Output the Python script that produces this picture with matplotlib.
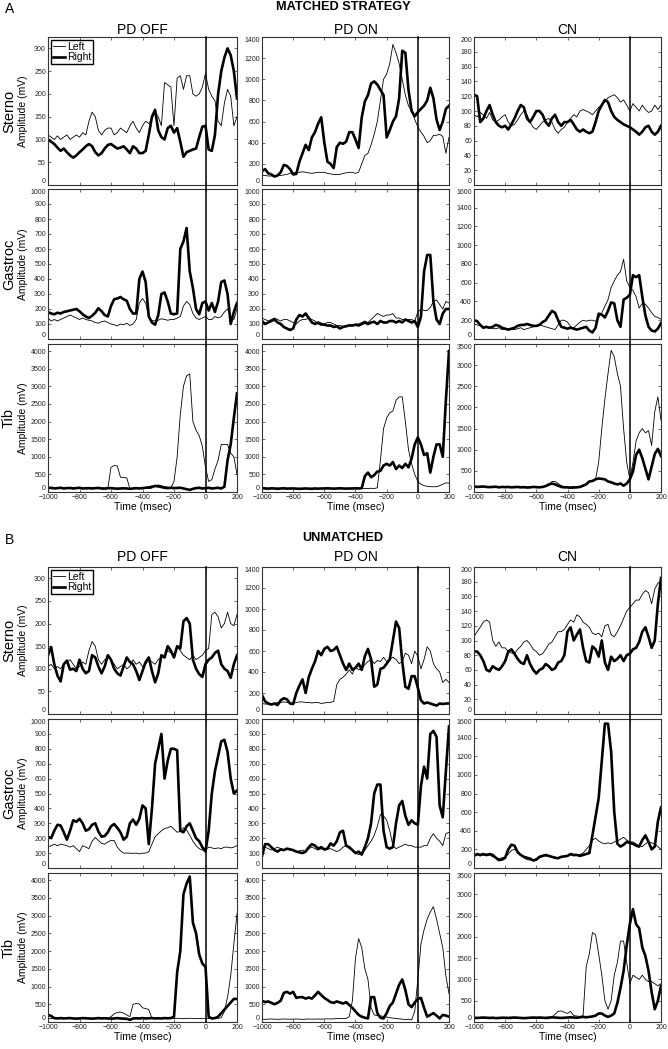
import numpy as np
import matplotlib
matplotlib.use('Agg')
import matplotlib.pyplot as plt
from matplotlib.lines import Line2D
from matplotlib import transforms

plt.rcParams['font.family'] = ['Liberation Sans', 'DejaVu Sans']

# time base (msec), one value every 20 msec
t = np.arange(-1000, 201, 20)

# ---------------- A: MATCHED STRATEGY ----------------
a_off_sterno_left = [110, 105, 100, 108, 100, 105, 110, 100, 105, 110,
                     105, 115, 110, 140, 160, 150, 120, 110, 120, 125,
                     125, 110, 115, 125, 120, 115, 130, 140, 125, 115,
                     130, 140, 135, 145, 160, 150, 130, 225, 220, 215,
                     130, 235, 240, 210, 240, 240, 200, 195, 200, 215,
                     245, 210, 195, 185, 140, 130, 180, 210, 195, 130, 150]
a_off_sterno_right = [100, 95, 90, 82, 75, 80, 72, 65, 60, 65,
                      72, 78, 85, 90, 85, 72, 65, 70, 80, 88,
                      90, 85, 80, 82, 85, 78, 70, 85, 80, 70,
                      70, 75, 110, 150, 165, 120, 105, 100, 125, 130,
                      115, 125, 95, 62, 72, 75, 78, 80, 105, 128,
                      130, 78, 75, 110, 200, 250, 280, 300, 285, 250, 190]
a_on_sterno_left = [90, 90, 85, 85, 90, 90, 90, 95, 100, 110,
                    115, 120, 120, 125, 120, 115, 110, 115, 120, 120,
                    120, 110, 105, 100, 100, 100, 110, 115, 120, 120,
                    110, 120, 200, 280, 300, 380, 480, 600, 800, 1000,
                    1050, 1150, 1330, 1250, 1150, 1000, 850, 750, 700, 620,
                    550, 500, 460, 400, 420, 470, 470, 480, 460, 300, 450]
a_on_sterno_right = [130, 150, 110, 100, 80, 90, 120, 190, 180, 150,
                     100, 105, 220, 300, 380, 330, 450, 500, 580, 640,
                     400, 220, 200, 160, 360, 400, 390, 410, 500, 500,
                     430, 350, 640, 790, 850, 960, 980, 950, 900, 850,
                     450, 520, 600, 650, 820, 1270, 1250, 900, 700, 650,
                     690, 720, 750, 800, 920, 820, 620, 520, 600, 720, 750]
a_cn_sterno_left = [95, 92, 98, 95, 90, 98, 88, 85, 88, 92,
                    95, 85, 80, 82, 88, 95, 100, 95, 85, 78,
                    75, 80, 85, 88, 90, 85, 75, 70, 75, 78,
                    85, 90, 95, 92, 100, 102, 100, 98, 95, 100,
                    105, 108, 112, 118, 120, 122, 118, 112, 115, 108,
                    100, 110, 105, 100, 108, 102, 98, 100, 108, 102, 108]
a_cn_sterno_right = [122, 120, 85, 90, 100, 108, 95, 85, 80, 78,
                     80, 75, 82, 90, 100, 108, 105, 90, 85, 92,
                     100, 100, 95, 85, 80, 90, 95, 85, 80, 85,
                     85, 88, 82, 75, 72, 75, 72, 70, 72, 85,
                     100, 108, 115, 112, 100, 92, 88, 85, 82, 80,
                     78, 75, 72, 68, 72, 78, 80, 72, 68, 72, 80]

a_off_gastroc_left = [140, 120, 130, 120, 130, 140, 150, 160, 150, 140,
                      130, 140, 130, 125, 120, 110, 105, 115, 120, 110,
                      100, 95, 88, 100, 95, 105, 90, 100, 130, 240,
                      270, 240, 140, 125, 120, 125, 135, 130, 125, 130,
                      130, 140, 150, 220, 250, 230, 170, 140, 130, 140,
                      150, 130, 130, 150, 140, 150, 180, 200, 150, 130, 200]
a_off_gastroc_right = [180, 170, 165, 175, 170, 180, 185, 190, 195, 200,
                       185, 165, 150, 140, 155, 175, 205, 185, 160, 150,
                       220, 265, 270, 280, 265, 255, 200, 170, 170, 400,
                       450, 380, 150, 110, 95, 160, 300, 310, 250, 170,
                       165, 170, 600, 650, 740, 450, 340, 200, 165, 240,
                       250, 190, 240, 180, 250, 380, 390, 300, 100, 180, 240]
a_on_gastroc_left = [140, 130, 120, 130, 140, 130, 120, 130, 130, 120,
                     110, 100, 120, 130, 130, 140, 130, 120, 100, 90,
                     100, 110, 110, 100, 90, 90, 85, 90, 95, 90,
                     100, 100, 110, 120, 110, 130, 150, 170, 160, 150,
                     160, 160, 170, 140, 140, 130, 130, 130, 130, 120,
                     180, 200, 190, 190, 210, 250, 260, 230, 200, 250, 240]
a_on_gastroc_right = [120, 100, 110, 120, 130, 110, 100, 80, 70, 60,
                      70, 130, 160, 150, 170, 140, 110, 100, 110, 100,
                      95, 90, 90, 80, 85, 70, 80, 85, 90, 90,
                      95, 90, 100, 110, 100, 110, 115, 100, 120, 110,
                      110, 120, 120, 110, 120, 110, 130, 120, 110, 120,
                      80, 150, 450, 560, 560, 250, 130, 100, 170, 200, 200]
a_cn_gastroc_left = [160, 150, 140, 130, 120, 120, 110, 110, 120, 100,
                     100, 110, 100, 100, 110, 120, 100, 110, 120, 130,
                     140, 150, 140, 130, 120, 110, 100, 150, 200, 200,
                     180, 130, 120, 150, 180, 200, 190, 200, 200, 190,
                     230, 280, 350, 420, 550, 620, 680, 720, 850, 620,
                     550, 520, 450, 330, 380, 370, 330, 280, 240, 230, 210]
a_cn_gastroc_right = [200, 190, 150, 120, 130, 120, 130, 150, 140, 120,
                      110, 100, 110, 120, 140, 150, 150, 160, 150, 140,
                      140, 150, 180, 200, 250, 300, 280, 200, 130, 120,
                      110, 120, 110, 100, 110, 120, 130, 90, 70, 120,
                      270, 260, 230, 300, 390, 380, 200, 130, 420, 440,
                      470, 680, 660, 680, 450, 250, 130, 90, 80, 110, 170]

a_off_tib_left = [120, 125, 115, 120, 110, 120, 125, 115, 110, 120,
                  115, 110, 120, 125, 115, 110, 120, 115, 110, 110,
                  700, 750, 740, 420, 410, 400, 100, 100, 95, 100,
                  105, 110, 100, 110, 180, 200, 180, 150, 140, 120,
                  300, 1000, 2200, 3000, 3300, 3350, 2000, 1750, 1600, 1300,
                  700, 300, 350, 650, 900, 1350, 1350, 1350, 1100, 1000, 500]
a_off_tib_right = [110, 120, 100, 110, 120, 100, 110, 115, 100, 110,
                   120, 100, 105, 110, 100, 110, 115, 100, 95, 110,
                   110, 100, 95, 100, 105, 100, 90, 100, 110, 100,
                   110, 120, 130, 150, 170, 160, 140, 120, 110, 120,
                   110, 115, 120, 100, 80, 60, 90, 110, 120, 100,
                   110, 120, 100, 110, 120, 100, 150, 900, 1350, 2100, 2800]
a_on_tib_left = [100, 110, 105, 95, 100, 110, 100, 95, 105, 100,
                 95, 100, 105, 100, 95, 100, 105, 100, 95, 100,
                 100, 95, 100, 105, 100, 95, 100, 105, 100, 100,
                 105, 100, 95, 100, 100, 105, 100, 120, 900, 1800,
                 2100, 2250, 2300, 2600, 2700, 2700, 2000, 1200, 800, 500,
                 300, 220, 180, 160, 150, 150, 150, 180, 220, 260, 250]
a_on_tib_right = [110, 100, 95, 105, 100, 90, 100, 105, 95, 100,
                  100, 95, 90, 95, 100, 95, 90, 100, 95, 100,
                  100, 105, 100, 95, 100, 105, 100, 95, 100, 100,
                  105, 100, 110, 450, 550, 420, 480, 580, 600, 750,
                  800, 750, 850, 650, 750, 680, 800, 700, 950, 1350,
                  1550, 1350, 1050, 1100, 550, 1000, 1350, 1350, 1000, 2600, 4000]
a_cn_tib_left = [120, 130, 125, 120, 130, 125, 120, 115, 125, 120,
                 130, 125, 120, 115, 120, 125, 130, 120, 115, 120,
                 125, 120, 115, 130, 150, 250, 250, 200, 150, 120,
                 110, 120, 130, 120, 115, 130, 200, 250, 250, 300,
                 700, 1500, 2200, 2800, 3350, 3200, 2800, 2500, 1500, 700,
                 300, 700, 1200, 1400, 1500, 1400, 1450, 1100, 1900, 2250, 1700]
a_cn_tib_right = [130, 120, 125, 130, 120, 115, 120, 125, 110, 120,
                  115, 120, 110, 115, 120, 110, 115, 105, 110, 120,
                  115, 110, 120, 140, 180, 200, 180, 150, 120, 110,
                  110, 100, 105, 110, 120, 150, 180, 250, 260, 300,
                  320, 310, 300, 250, 230, 200, 180, 200, 150, 200,
                  300, 480, 880, 1000, 800, 550, 300, 600, 900, 1020, 850]

# ---------------- B: UNMATCHED ----------------
b_off_sterno_left = [105, 110, 100, 105, 100, 110, 115, 120, 110, 100,
                     105, 115, 110, 140, 160, 150, 120, 110, 120, 125,
                     120, 110, 100, 105, 110, 100, 105, 120, 110, 115,
                     105, 110, 120, 115, 110, 120, 125, 130, 140, 135,
                     130, 150, 140, 130, 125, 120, 130, 120, 125, 130,
                     140, 145, 220, 225, 215, 190, 200, 225, 200, 195, 220]
b_off_sterno_right = [130, 148, 110, 85, 72, 110, 118, 98, 100, 95,
                      120, 100, 90, 95, 130, 125, 105, 90, 105, 130,
                      120, 100, 90, 85, 105, 125, 115, 110, 95, 75,
                      95, 115, 125, 95, 70, 90, 130, 125, 150, 140,
                      125, 150, 145, 205, 212, 200, 120, 100, 88, 82,
                      110, 120, 125, 135, 140, 110, 100, 95, 80, 110, 130]
b_on_sterno_left = [100, 95, 95, 100, 100, 110, 110, 115, 110, 105,
                    100, 110, 115, 115, 110, 110, 105, 110, 110, 100,
                    105, 110, 110, 120, 280, 330, 350, 380, 420, 380,
                    450, 420, 430, 470, 500, 520, 480, 510, 500, 540,
                    500, 520, 540, 520, 480, 500, 580, 560, 480, 600,
                    550, 430, 520, 640, 600, 480, 430, 400, 300, 330, 300]
b_on_sterno_right = [180, 120, 100, 90, 100, 85, 130, 150, 140, 100,
                     95, 200, 270, 330, 200, 350, 430, 500, 600, 560,
                     620, 640, 600, 610, 640, 560, 480, 420, 480, 420,
                     440, 480, 420, 550, 620, 520, 260, 280, 430, 440,
                     480, 520, 700, 880, 820, 500, 260, 240, 360, 360,
                     250, 130, 100, 110, 100, 90, 80, 100, 95, 100, 100]
b_cn_sterno_left = [105, 112, 118, 125, 128, 125, 100, 92, 98, 90,
                    90, 85, 83, 82, 88, 92, 98, 100, 95, 88,
                    85, 80, 82, 88, 95, 98, 105, 112, 112, 115,
                    122, 128, 125, 135, 132, 125, 122, 118, 110, 108,
                    110, 105, 120, 122, 108, 105, 112, 120, 130, 140,
                    145, 150, 155, 155, 163, 168, 165, 150, 170, 178, 180]
b_cn_sterno_right = [85, 85, 80, 72, 60, 58, 65, 62, 60, 65,
                     72, 85, 88, 82, 75, 70, 68, 80, 68, 60,
                     55, 60, 62, 68, 65, 60, 62, 70, 72, 80,
                     112, 118, 100, 108, 115, 90, 72, 70, 92, 88,
                     78, 100, 70, 60, 78, 72, 75, 80, 72, 80,
                     82, 88, 90, 98, 112, 118, 105, 90, 100, 150, 185]

b_off_gastroc_left = [140, 150, 160, 150, 160, 155, 150, 140, 150, 130,
                      110, 150, 140, 130, 180, 205, 185, 165, 160, 175,
                      185, 185, 140, 115, 100, 100, 100, 98, 100, 95,
                      100, 100, 110, 160, 210, 230, 250, 265, 270, 280,
                      260, 240, 245, 270, 255, 220, 180, 150, 130, 120,
                      125, 140, 135, 130, 135, 130, 140, 140, 135, 140, 150]
b_off_gastroc_right = [210, 200, 250, 290, 285, 240, 190, 250, 320, 310,
                       330, 300, 250, 260, 290, 300, 245, 210, 215, 240,
                       280, 295, 270, 240, 190, 210, 300, 325, 290, 330,
                       420, 400, 160, 400, 700, 800, 900, 600, 720, 800,
                       800, 790, 250, 240, 280, 300, 250, 200, 180, 140,
                       110, 250, 500, 650, 750, 850, 860, 780, 600, 500, 520]
b_on_gastroc_left = [130, 140, 130, 120, 130, 140, 130, 120, 130, 120,
                     120, 110, 115, 120, 110, 130, 140, 130, 120, 130,
                     120, 125, 130, 120, 110, 120, 140, 150, 130, 120,
                     100, 90, 100, 120, 150, 180, 220, 280, 360, 350,
                     320, 250, 150, 130, 140, 150, 160, 150, 150, 140,
                     140, 140, 150, 150, 200, 230, 200, 180, 150, 230, 240]
b_on_gastroc_right = [80, 160, 160, 140, 120, 110, 125, 120, 130, 125,
                      120, 110, 105, 100, 110, 140, 160, 150, 130, 140,
                      125, 130, 165, 150, 180, 240, 250, 150, 140, 120,
                      100, 110, 90, 140, 200, 300, 500, 560, 560, 250,
                      140, 130, 140, 300, 420, 450, 350, 290, 320, 300,
                      290, 550, 680, 600, 900, 920, 880, 420, 340, 650, 950]
b_cn_gastroc_left = [150, 140, 130, 140, 130, 140, 120, 110, 100, 110,
                     120, 150, 190, 200, 170, 140, 110, 90, 85, 90,
                     100, 110, 125, 130, 125, 120, 115, 110, 120, 130,
                     135, 140, 130, 140, 145, 160, 200, 240, 300, 320,
                     290, 270, 260, 270, 260, 280, 290, 310, 330, 300,
                     280, 280, 260, 240, 230, 260, 280, 270, 260, 230, 200]
b_cn_gastroc_right = [130, 150, 140, 150, 140, 150, 140, 110, 85, 90,
                      110, 200, 250, 240, 170, 140, 120, 110, 100, 80,
                      90, 120, 130, 140, 130, 120, 110, 105, 120, 125,
                      130, 150, 140, 140, 130, 140, 150, 160, 350, 550,
                      750, 1150, 1550, 1550, 1250, 600, 260, 230, 250, 280,
                      270, 260, 240, 230, 300, 350, 280, 200, 230, 500, 650]

b_off_tib_left = [100, 95, 100, 105, 100, 95, 100, 105, 100, 95,
                  100, 105, 100, 95, 100, 105, 100, 95, 100, 105,
                  150, 230, 270, 280, 250, 200, 150, 500, 520, 510,
                  400, 380, 350, 100, 95, 100, 105, 100, 95, 100,
                  100, 105, 100, 95, 100, 105, 100, 95, 100, 100,
                  105, 100, 95, 100, 105, 120, 300, 700, 1300, 2200, 3050]
b_off_tib_right = [200, 170, 110, 100, 110, 100, 105, 110, 100, 95,
                   100, 110, 105, 100, 95, 100, 110, 100, 105, 100,
                   95, 100, 110, 100, 95, 90, 60, 100, 105, 100,
                   110, 100, 105, 110, 100, 105, 100, 110, 105, 110,
                   150, 1400, 2000, 3600, 3900, 4100, 2800, 2500, 1900, 1650,
                   1550, 150, 100, 110, 150, 250, 350, 450, 550, 650, 650]
b_on_tib_left = [80, 75, 80, 85, 80, 75, 80, 85, 80, 80,
                 80, 85, 80, 75, 80, 85, 80, 80, 85, 80,
                 85, 90, 85, 90, 95, 100, 100, 100, 150, 600,
                 1800, 2350, 2100, 1500, 1200, 400, 200, 180, 170, 160,
                 140, 120, 110, 100, 90, 80, 70, 80, 60, 300,
                 1200, 2200, 2600, 2900, 3100, 3250, 2900, 2500, 2100, 1300, 800]
b_on_tib_right = [600, 560, 580, 540, 500, 540, 600, 820, 850, 800,
                  850, 680, 700, 700, 660, 690, 660, 750, 850, 760,
                  680, 620, 560, 540, 580, 550, 520, 560, 480, 400,
                  300, 200, 150, 120, 100, 700, 700, 250, 120, 100,
                  250, 450, 550, 800, 1050, 1200, 900, 500, 420, 550,
                  650, 680, 400, 150, 200, 250, 180, 100, 200, 180, 150]
b_cn_tib_left = [100, 105, 100, 95, 100, 105, 100, 95, 100, 100,
                 95, 100, 105, 100, 95, 100, 105, 100, 100, 95,
                 100, 105, 100, 110, 115, 120, 180, 250, 260, 230,
                 200, 250, 150, 140, 130, 150, 1300, 1600, 2100, 2050,
                 1600, 1100, 500, 300, 500, 1100, 1400, 1900, 1900, 1400,
                 900, 1100, 1050, 1000, 1100, 1000, 950, 950, 900, 850, 900]
b_cn_tib_right = [100, 95, 100, 105, 100, 95, 100, 90, 95, 100,
                  100, 95, 100, 105, 100, 95, 90, 95, 100, 105,
                  100, 105, 100, 95, 100, 110, 105, 100, 95, 100,
                  105, 110, 105, 100, 110, 120, 110, 120, 130, 150,
                  200, 200, 150, 120, 150, 200, 450, 800, 1200, 1800,
                  2300, 2650, 2300, 2200, 1750, 1550, 1200, 700, 300, 500, 850]

groups = ['PD OFF', 'PD ON', 'CN']
muscles = ['Sterno', 'Gastroc', 'Tib']
ymax = [[325, 1400, 200], [1000, 1000, 1600], [4200, 4200, 3500]]
ystep = [[50, 200, 20], [100, 100, 200], [500, 500, 500]]

sections = [
    ('A', 'MATCHED STRATEGY', [
        [(a_off_sterno_left, a_off_sterno_right), (a_on_sterno_left, a_on_sterno_right), (a_cn_sterno_left, a_cn_sterno_right)],
        [(a_off_gastroc_left, a_off_gastroc_right), (a_on_gastroc_left, a_on_gastroc_right), (a_cn_gastroc_left, a_cn_gastroc_right)],
        [(a_off_tib_left, a_off_tib_right), (a_on_tib_left, a_on_tib_right), (a_cn_tib_left, a_cn_tib_right)],
    ]),
    ('B', 'UNMATCHED', [
        [(b_off_sterno_left, b_off_sterno_right), (b_on_sterno_left, b_on_sterno_right), (b_cn_sterno_left, b_cn_sterno_right)],
        [(b_off_gastroc_left, b_off_gastroc_right), (b_on_gastroc_left, b_on_gastroc_right), (b_cn_gastroc_left, b_cn_gastroc_right)],
        [(b_off_tib_left, b_off_tib_right), (b_on_tib_left, b_on_tib_right), (b_cn_tib_left, b_cn_tib_right)],
    ]),
]

# layout in pixels of the 668x1049 figure
W, H = 668, 1049
col_px = [(48, 237), (262, 449), (474, 661)]
row_px = [[(37, 185), (189, 339), (344, 492)],
          [(567, 714), (719, 868), (873, 1022)]]
head_y = [7, 538]
title_y = [30, 557]

fig = plt.figure(figsize=(W / 100, H / 100), dpi=100)
fc = '#333333'

for s, (letter, heading, panels) in enumerate(sections):
    fig.text(5 / W, 1 - (head_y[s] + 2) / H, letter, fontsize=10, ha='left', va='center')
    fig.text(343 / W, 1 - head_y[s] / H, heading, fontsize=9.2, fontweight='bold',
             ha='center', va='center')
    for c in range(3):
        x0, x1 = col_px[c]
        fig.text((x0 + x1) / 2 / W, 1 - title_y[s] / H, groups[c], fontsize=10,
                 ha='center', va='center')
        for r in range(3):
            y0, y1 = row_px[s][r]
            ax = fig.add_axes([x0 / W, 1 - y1 / H, (x1 - x0) / W, (y1 - y0) / H])
            left, right = panels[r][c]
            assert len(left) == len(t) and len(right) == len(t)
            ax.plot(t, left, color='black', lw=0.6, label='Left')
            ax.plot(t, right, color='black', lw=1.9, label='Right')
            ax.set_xlim(-1000, 200)
            ax.set_ylim(0, ymax[r][c])
            yt = np.arange(0, ymax[r][c] + 1, ystep[r][c])
            ax.set_xticks(np.arange(-1000, 201, 200))
            ax.set_yticks(yt)
            ax.tick_params(direction='in', length=2.5, width=0.5, top=True, right=True,
                           labelsize=5, pad=1.5, colors=fc, labelcolor='#222222')
            # keep the edge labels inside their own panel, as in the original
            ylabs = ax.get_yticklabels()
            ylabs[0].set_va('bottom')
            if yt[-1] == ymax[r][c]:
                ylabs[-1].set_va('top')
            for sp in ax.spines.values():
                sp.set_linewidth(0.8)
                sp.set_color(fc)
            if r < 2:
                ax.set_xticklabels([])
            else:
                ax.set_xlabel('Time (msec)', fontsize=7.5, labelpad=1)
            if r == 0 and c == 0:
                ax.legend(loc='upper left', fontsize=7.5, handlelength=1.2,
                          handletextpad=0.2, borderpad=0.15, labelspacing=0.05,
                          borderaxespad=0.3, frameon=True, fancybox=False,
                          edgecolor='black', framealpha=1)
            if c == 0:
                yc = 1 - (y0 + y1) / 2 / H
                fig.text(9 / W, yc, muscles[r], fontsize=10.5, rotation=90,
                         ha='center', va='center')
                fig.text(23 / W, yc, 'Amplitude (mV)', fontsize=7.5, rotation=90,
                         ha='center', va='center')
            if r == 2:
                # time-zero marker running through the three rows of the column
                tr = transforms.blended_transform_factory(ax.transData, fig.transFigure)
                ytop = 1 - row_px[s][0][0] / H
                ybot = 1 - row_px[s][2][1] / H
                fig.add_artist(Line2D([0, 0], [ybot, ytop], transform=tr,
                                      color='black', lw=1.1, zorder=5))

fig.savefig('out.png', dpi=100)
